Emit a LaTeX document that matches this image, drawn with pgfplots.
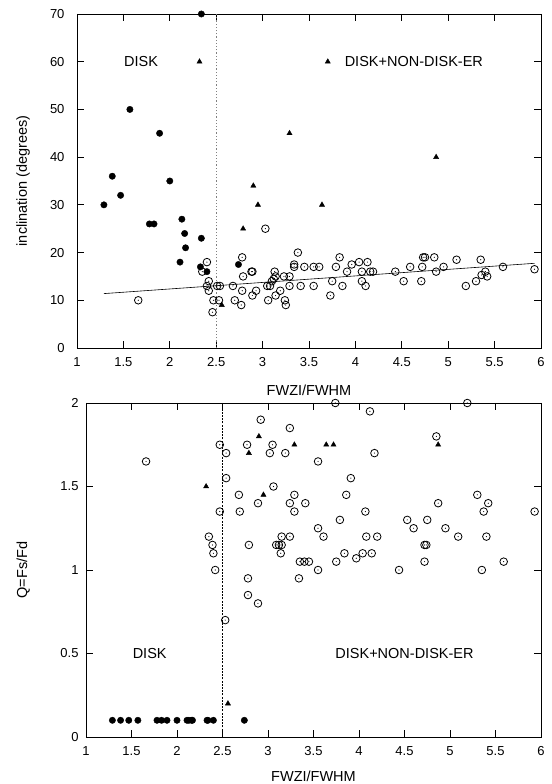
\documentclass[border=0pt]{standalone}
\usepackage{fontspec}
\setmainfont{Liberation Sans}
\usepackage{pgfplots}
\pgfplotsset{compat=1.18}

% circle with a dot in the middle (gnuplot point type)
\pgfdeclareplotmark{odot}{%
  \pgfpathcircle{\pgfpointorigin}{\pgfplotmarksize}\pgfusepathqstroke
  \pgfpathcircle{\pgfpointorigin}{0.6pt}\pgfusepathqfill}

\newcommand{\lblfont}{\fontsize{14.5bp}{16bp}\selectfont}

\pgfplotsset{
  panel/.style={
    scale only axis, clip=false,
    xmin=1, xmax=6,
    xtick={1,1.5,2,2.5,3,3.5,4,4.5,5,5.5,6},
    tick align=inside, tick pos=both,
    major tick length=7bp,
    axis line style={line width=0.8bp},
    every tick/.style={black, line width=0.8bp},
    tick label style={font=\fontsize{13bp}{15bp}\selectfont},
    /pgf/number format/assume math mode=true,
    xticklabel style={yshift=-6bp},
    xlabel={FWZI/FWHM},
  },
  disk/.style={only marks, mark=*, mark size=3.2bp, black, forget plot},
  tri/.style={only marks, mark=triangle*, mark size=3bp, black},
  ring/.style={only marks, mark=odot, mark size=3.8bp, black, mark options={line width=0.8bp}, forget plot},
}

\begin{document}
\begin{tikzpicture}
\path[use as bounding box] (0,0) rectangle (552bp,784bp);

% ---------------- top panel: inclination ----------------
\begin{axis}[panel,
    at={(77bp,436bp)}, anchor=south west,
    width=464bp, height=334bp,
    ymin=0, ymax=70, ytick={0,10,20,30,40,50,60,70},
    yticklabel style={xshift=-9bp},
    ylabel={inclination (degrees)},
    every axis y label/.style={at={(axis description cs:-0.116,0.5)}, rotate=90, anchor=center, font=\lblfont},
    every axis x label/.style={at={(axis description cs:0.5,-0.126)}, anchor=center, font=\lblfont},
    legend image code/.code={\draw[#1] plot coordinates {(0bp,0bp)}; \path[draw=none] (0bp,0bp) -- (15bp,0bp);},
    legend style={draw=none, fill=none, at={(axis cs:3.71,60)}, anchor=west, xshift=-3.5bp,
      inner sep=0pt, font=\lblfont},
  ]
\addplot[tri] coordinates {
  (2.32,60) (2.90,34) (3.29,45) (4.87,40) (2.95,30) (2.79,25) (3.64,30) (2.56,9)
};
\addlegendentry{DISK+NON-DISK-ER}

\addplot[gray, line width=1.2bp, dash pattern=on 1.2bp off 2bp, forget plot]
  coordinates {(2.5,0) (2.5,70)};

\addplot[black, line width=0.6bp, forget plot] coordinates {(1.29,11.4) (5.93,17.75)};

\addplot[disk] coordinates {
  (2.34,70) (1.57,50) (1.89,45) (1.38,36) (2.00,35) (1.47,32) (1.29,30)
  (1.78,26) (1.83,26) (2.13,27) (2.16,24) (2.34,23) (2.17,21) (2.11,18)
  (2.74,17.5) (2.33,17) (2.40,16)
};

\addplot[ring] coordinates {
  (1.66,10) (2.35,16) (2.40,18) (2.42,14) (2.40,13) (2.42,12) (2.47,10) (2.46,7.5)
  (2.51,13) (2.54,13) (2.53,10) (2.68,13) (2.70,10) (2.78,12) (2.77,9) (2.78,19)
  (2.79,15) (2.88,16) (2.89,16) (2.93,12) (2.89,11) (3.03,25) (3.06,10) (3.05,13)
  (3.08,13) (3.10,14) (3.12,14.5) (3.13,16) (3.14,15) (3.14,11) (3.19,12) (3.23,15)
  (3.29,15) (3.29,13) (3.24,10) (3.25,9) (3.38,20) (3.34,17.5) (3.34,17) (3.41,13)
  (3.45,17) (3.55,17) (3.61,17) (3.55,13) (3.73,11) (3.75,14) (3.79,17) (3.83,19)
  (3.86,13) (3.91,16) (3.96,17.5) (4.04,18) (4.07,16) (4.07,14) (4.11,13) (4.13,18)
  (4.16,16) (4.19,16) (4.43,16) (4.52,14) (4.59,17) (4.71,14) (4.72,17) (4.73,19)
  (4.75,19) (4.85,19) (4.87,16) (4.95,17) (5.09,18.5) (5.19,13) (5.30,14) (5.35,18.5)
  (5.36,15.3) (5.40,16) (5.42,15) (5.59,17) (5.93,16.5)
};

\node[font=\lblfont] at (axis cs:1.69,60) {DISK};
\end{axis}

% ---------------- bottom panel: Q = Fs/Fd ----------------
\begin{axis}[panel,
    at={(86bp,47bp)}, anchor=south west,
    width=455bp, height=334bp,
    ymin=0, ymax=2, ytick={0,0.5,1,1.5,2},
    yticklabel style={xshift=-4bp},
    ylabel={Q=Fs/Fd},
    every axis y label/.style={at={(axis description cs:-0.138,0.5)}, rotate=90, anchor=center, font=\lblfont},
    every axis x label/.style={at={(axis description cs:0.5,-0.117)}, anchor=center, font=\lblfont},
  ]
\addplot[black, line width=0.8bp, dash pattern=on 2bp off 1.2bp, forget plot]
  coordinates {(2.5,0) (2.5,2)};

\addplot[tri, forget plot] coordinates {
  (2.32,1.5) (2.56,0.2) (2.79,1.7) (2.90,1.8) (2.95,1.45) (3.29,1.75)
  (3.64,1.75) (3.72,1.75) (4.87,1.75)
};

\addplot[disk] coordinates {
  (1.29,0.1) (1.38,0.1) (1.47,0.1) (1.57,0.1) (1.78,0.1) (1.83,0.1) (1.89,0.1)
  (2.00,0.1) (2.11,0.1) (2.13,0.1) (2.16,0.1) (2.17,0.1) (2.33,0.1) (2.34,0.1)
  (2.40,0.1) (2.74,0.1)
};

\addplot[ring] coordinates {
  (1.66,1.65) (2.35,1.20) (2.39,1.15) (2.40,1.10) (2.42,1.00) (2.47,1.75) (2.47,1.35)
  (2.54,1.70) (2.54,1.55) (2.53,0.70) (2.68,1.45) (2.69,1.35) (2.77,1.75) (2.79,1.15)
  (2.78,0.95) (2.78,0.85) (2.89,0.80) (2.89,1.40) (2.92,1.90) (3.02,1.70) (3.05,1.75)
  (3.06,1.50) (3.09,1.15) (3.12,1.15) (3.15,1.15) (3.15,1.20) (3.14,1.10) (3.19,1.70)
  (3.24,1.85) (3.24,1.40) (3.24,1.20) (3.29,1.45) (3.29,1.35) (3.41,1.40) (3.35,1.05)
  (3.40,1.05) (3.45,1.05) (3.34,0.95) (3.55,1.65) (3.55,1.25) (3.55,1.00) (3.61,1.20)
  (3.74,2.00) (3.75,1.05) (3.79,1.30) (3.84,1.10) (3.86,1.45) (3.91,1.55) (3.97,1.07)
  (4.04,1.10) (4.07,1.35) (4.08,1.20) (4.12,1.95) (4.14,1.10) (4.17,1.70) (4.20,1.20)
  (4.44,1.00) (4.53,1.30) (4.60,1.25) (4.72,1.15) (4.74,1.15) (4.72,1.05) (4.75,1.30)
  (4.85,1.80) (4.87,1.40) (4.95,1.25) (5.09,1.20) (5.19,2.00) (5.30,1.45) (5.37,1.35)
  (5.42,1.40) (5.40,1.20) (5.35,1.00) (5.59,1.05) (5.93,1.35)
};

\node[font=\lblfont] at (axis cs:1.70,0.5) {DISK};
\node[font=\lblfont] at (axis cs:4.50,0.5) {DISK+NON-DISK-ER};
\end{axis}
\end{tikzpicture}
\end{document}
